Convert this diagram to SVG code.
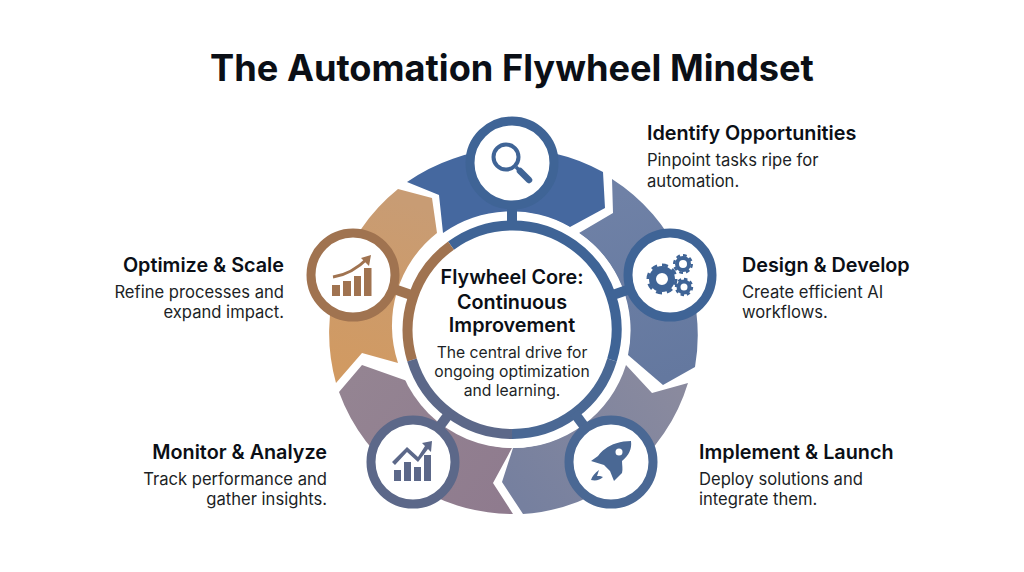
<svg xmlns="http://www.w3.org/2000/svg" width="1024" height="572" viewBox="0 0 1024 572">
<defs>
<style>
text{font-family:Inter,"Liberation Sans",sans-serif;fill:#0b0f16}
.t{font-size:36.2px;font-weight:700;text-anchor:middle}
.h{font-size:19.8px;font-weight:600}
.b{font-size:16.6px;font-weight:400;fill:#1c1f26}
.c{font-size:19.8px;font-weight:600;text-anchor:middle}
.d{font-size:15.7px;font-weight:400;text-anchor:middle;fill:#1c1f26}
.e{text-anchor:end}
.r{fill:#fff;stroke-width:9}
.tb{fill:none;stroke-width:7}
.tt{fill:none;stroke-width:3}
.sb{fill:none;stroke-width:4}
.st{fill:none;stroke-width:2.4}
</style>
<linearGradient id="g2" gradientUnits="userSpaceOnUse" x1="600" y1="200" x2="660" y2="380"><stop offset="0" stop-color="#6f81a6"/><stop offset="1" stop-color="#64789f"/></linearGradient>
<linearGradient id="g3" gradientUnits="userSpaceOnUse" x1="670" y1="380" x2="520" y2="500"><stop offset="0" stop-color="#8a8a9e"/><stop offset="1" stop-color="#76809f"/></linearGradient>
<linearGradient id="g4" gradientUnits="userSpaceOnUse" x1="350" y1="380" x2="510" y2="500"><stop offset="0" stop-color="#948492"/><stop offset="1" stop-color="#8f7b8e"/></linearGradient>
<linearGradient id="g5" gradientUnits="userSpaceOnUse" x1="400" y1="200" x2="350" y2="370"><stop offset="0" stop-color="#c89c74"/><stop offset="1" stop-color="#d19a62"/></linearGradient>
</defs>
<rect width="1024" height="572" fill="#fff"/>
<text class="t" x="512" y="81">The Automation Flywheel Mindset</text>
<g id="wheel">
<path fill="#45689f" d="M407 182A185 185 0 0 1 603 172L605 208L570 227A118 118 0 0 0 443 233L439 195Z"/>
<path fill="url(#g2)" d="M612 179A185 185 0 0 1 695 367L663 385L628 355A118 118 0 0 0 579 233L613 213Z"/>
<path fill="url(#g3)" d="M688 383A185 185 0 0 1 523 514L502 482L513 448A118 118 0 0 0 626 365L652 393Z"/>
<path fill="url(#g4)" d="M513 514A185 185 0 0 1 339 392L362 365L410 382A118 118 0 0 0 512 448L493 483Z"/>
<path fill="url(#g5)" d="M336 383A185 185 0 0 1 398 189L432 198L437 233A118 118 0 0 0 398 363L362 353Z"/>
</g>
<g id="core">
<circle cx="512" cy="330" r="118" fill="#fff"/>
<g fill="none" stroke-width="10">
<path stroke="#3f6496" d="M451 245.600A104 104 0 0 1 612 360"/>
<path stroke="#a07350" d="M451 245.600A104 104 0 0 0 412 360"/>
<path stroke="#5c6889" d="M412 360A104 104 0 0 0 512 434"/>
<path stroke="#4a6894" d="M512 434A104 104 0 0 0 612 360"/>
</g>
<text class="c" x="512" y="284">Flywheel Core:</text>
<text class="c" x="512" y="309">Continuous</text>
<text class="c" x="512" y="332">Improvement</text>
<text class="d" x="512" y="358">The central drive for</text>
<text class="d" x="512" y="377">ongoing optimization</text>
<text class="d" x="512" y="396">and learning.</text>
</g>
<g id="connectors" fill="none" stroke-width="10">
<path stroke="#3f6496" d="M512 200V226"/>
<path stroke="#3f6496" d="M630 289L610 296"/>
<path stroke="#a07350" d="M394 289L414 296"/>
<path stroke="#5c6889" d="M437 430L449.600 413"/>
<path stroke="#4a6894" d="M587 430L574.400 413"/>
</g>
<g id="identify">
<circle class="r" cx="512" cy="163" r="42" stroke="#3f6496"/>
<circle cx="506" cy="157" r="12.500" fill="none" stroke="#3f6496" stroke-width="4"/>
<path d="M516 167L520 171" stroke="#3f6496" stroke-width="3.500"/>
<path d="M520 171L529 180" stroke="#3f6496" stroke-width="6.500" stroke-linecap="round"/>
<text class="h" x="647" y="140">Identify Opportunities</text>
<text class="b" x="647" y="166">Pinpoint tasks ripe for</text>
<text class="b" x="647" y="187">automation.</text>
</g>
<g id="design">
<circle class="r" cx="670" cy="275" r="42" stroke="#3f6496"/>
<g stroke="#3f6496">
<circle class="tb" cx="662" cy="279" r="9.500"/><circle class="tt" cx="662" cy="279" r="14" pathLength="8" stroke-dasharray=".55 .45"/>
<circle class="sb" cx="683" cy="264" r="6"/><circle class="st" cx="683" cy="264" r="8.800" pathLength="8" stroke-dasharray=".55 .45"/>
<circle class="sb" cx="684" cy="287" r="5.500"/><circle class="st" cx="684" cy="287" r="8" pathLength="8" stroke-dasharray=".55 .45"/>
</g>
<text class="h" x="742" y="272">Design &amp; Develop</text>
<text class="b" x="742" y="298">Create efficient AI</text>
<text class="b" x="742" y="318">workflows.</text>
</g>
<g id="implement">
<circle class="r" cx="611" cy="462" r="42" stroke="#4a6894"/>
<path fill="#4a6894" d="M631 441C621 441 611 444 605 449C602 451 600 453 598 456L591 461L604 465L610 471L614 481L622 473C623 469 622 465 622 461C629 455 632 449 631 441Z"/>
<path fill="#4a6894" d="M599 470C595 473 592 476 591 480C596 481 600 480 603 477L600 476L597 476Z"/>
<circle cx="619" cy="452" r="3.500" fill="#fff"/>
<text class="h" x="699" y="459">Implement &amp; Launch</text>
<text class="b" x="699" y="485">Deploy solutions and</text>
<text class="b" x="699" y="505">integrate them.</text>
</g>
<g id="monitor">
<circle class="r" cx="413" cy="462" r="42" stroke="#5c6889"/>
<g fill="#5c6889"><rect x="394" y="470" width="7" height="11"/><rect x="404" y="462" width="7" height="19"/><rect x="414" y="467" width="7" height="14"/><rect x="424" y="455" width="7" height="26"/><path d="M432 441L431 452L428 449L418 462L407 452L395 465L392 462L407 447L418 457L425 446L422 443Z"/></g>
<text class="h e" x="327" y="459">Monitor &amp; Analyze</text>
<text class="b e" x="327" y="485">Track performance and</text>
<text class="b e" x="327" y="505">gather insights.</text>
</g>
<g id="optimize">
<circle class="r" cx="353" cy="275" r="42" stroke="#a07350"/>
<g fill="#a07350"><rect x="332" y="285" width="8" height="11"/><rect x="343" y="281" width="8" height="15"/><rect x="354" y="276" width="7" height="20"/><rect x="364" y="268" width="7.500" height="28"/></g>
<path fill="none" stroke="#a07350" stroke-width="3" d="M333 277C347 275 358 268 368 258"/>
<path fill="#a07350" d="M371 255L369 266L361 258Z"/>
<text class="h e" x="284" y="272">Optimize &amp; Scale</text>
<text class="b e" x="284" y="298">Refine processes and</text>
<text class="b e" x="284" y="318">expand impact.</text>
</g>
</svg>
